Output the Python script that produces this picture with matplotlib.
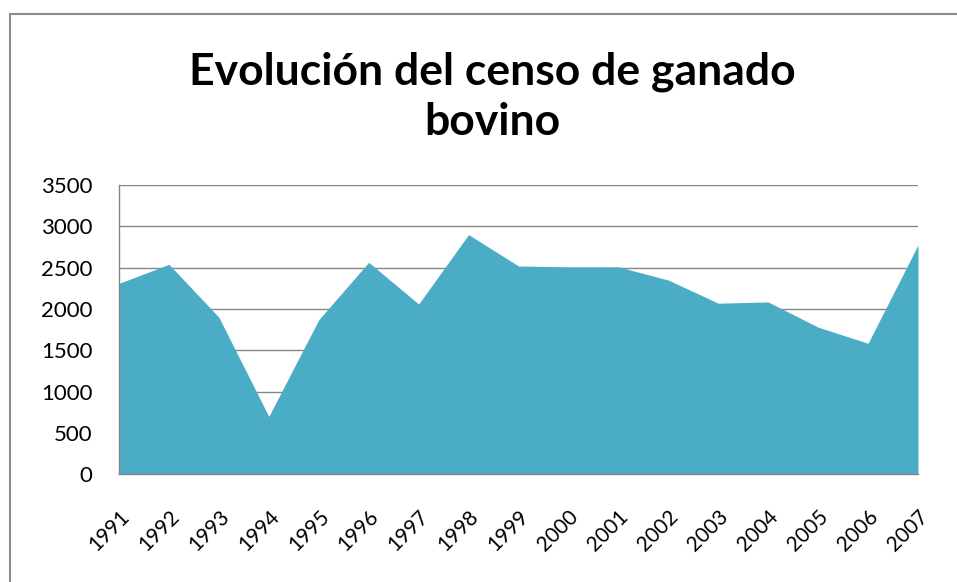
import matplotlib.pyplot as plt
from matplotlib.patches import Rectangle

anios = ['1991', '1992', '1993', '1994', '1995', '1996', '1997', '1998', '1999',
         '2000', '2001', '2002', '2003', '2004', '2005', '2006', '2007']
censo = [2310, 2540, 1900, 700, 1870, 2565, 2060, 2900, 2520,
         2510, 2510, 2350, 2070, 2085, 1780, 1585, 2775]
marcas_y = [0, 500, 1000, 1500, 2000, 2500, 3000, 3500]

plt.rcParams['font.family'] = ['Lato', 'DejaVu Sans']

fig = plt.figure(figsize=(9.57, 5.82), dpi=100)

# marco del grafico (cortado a la derecha y abajo)
fig.patches.append(Rectangle((10 / 957, -0.1), 1.2, (582 - 14) / 582 + 0.1,
                             transform=fig.transFigure, fill=False,
                             edgecolor='#8c8c8c', linewidth=1.5))

ax = fig.add_axes([119 / 957, (582 - 474.3) / 582, 799 / 957, 289.3 / 582])
x = list(range(len(anios)))
ax.fill_between(x, censo, 0, color='#4BACC6', linewidth=0, zorder=2)

ax.set_xlim(0, len(anios) - 1)
ax.set_ylim(0, 3500)
ax.set_yticks(marcas_y)
ax.set_xticks(x)
ax.set_xticklabels(anios, rotation=45, ha='right', rotation_mode='anchor')
ax.tick_params(axis='both', length=0, colors='black')
ax.tick_params(axis='x', pad=23, labelsize=15)
ax.tick_params(axis='y', pad=19, labelsize=16)

ax.yaxis.grid(True, color='#868686', linewidth=1, zorder=1)
ax.set_axisbelow(True)
for lado in ['top', 'right']:
    ax.spines[lado].set_visible(False)
for lado in ['left', 'bottom']:
    ax.spines[lado].set_color('#868686')
    ax.spines[lado].set_linewidth(1)

fig.text(492 / 957, 1 - 97 / 582, 'Evolución del censo de ganado\nbovino', ha='center',
         va='center', fontsize=32, fontweight='bold', linespacing=1.3)

fig.savefig('out.png', dpi=100)
